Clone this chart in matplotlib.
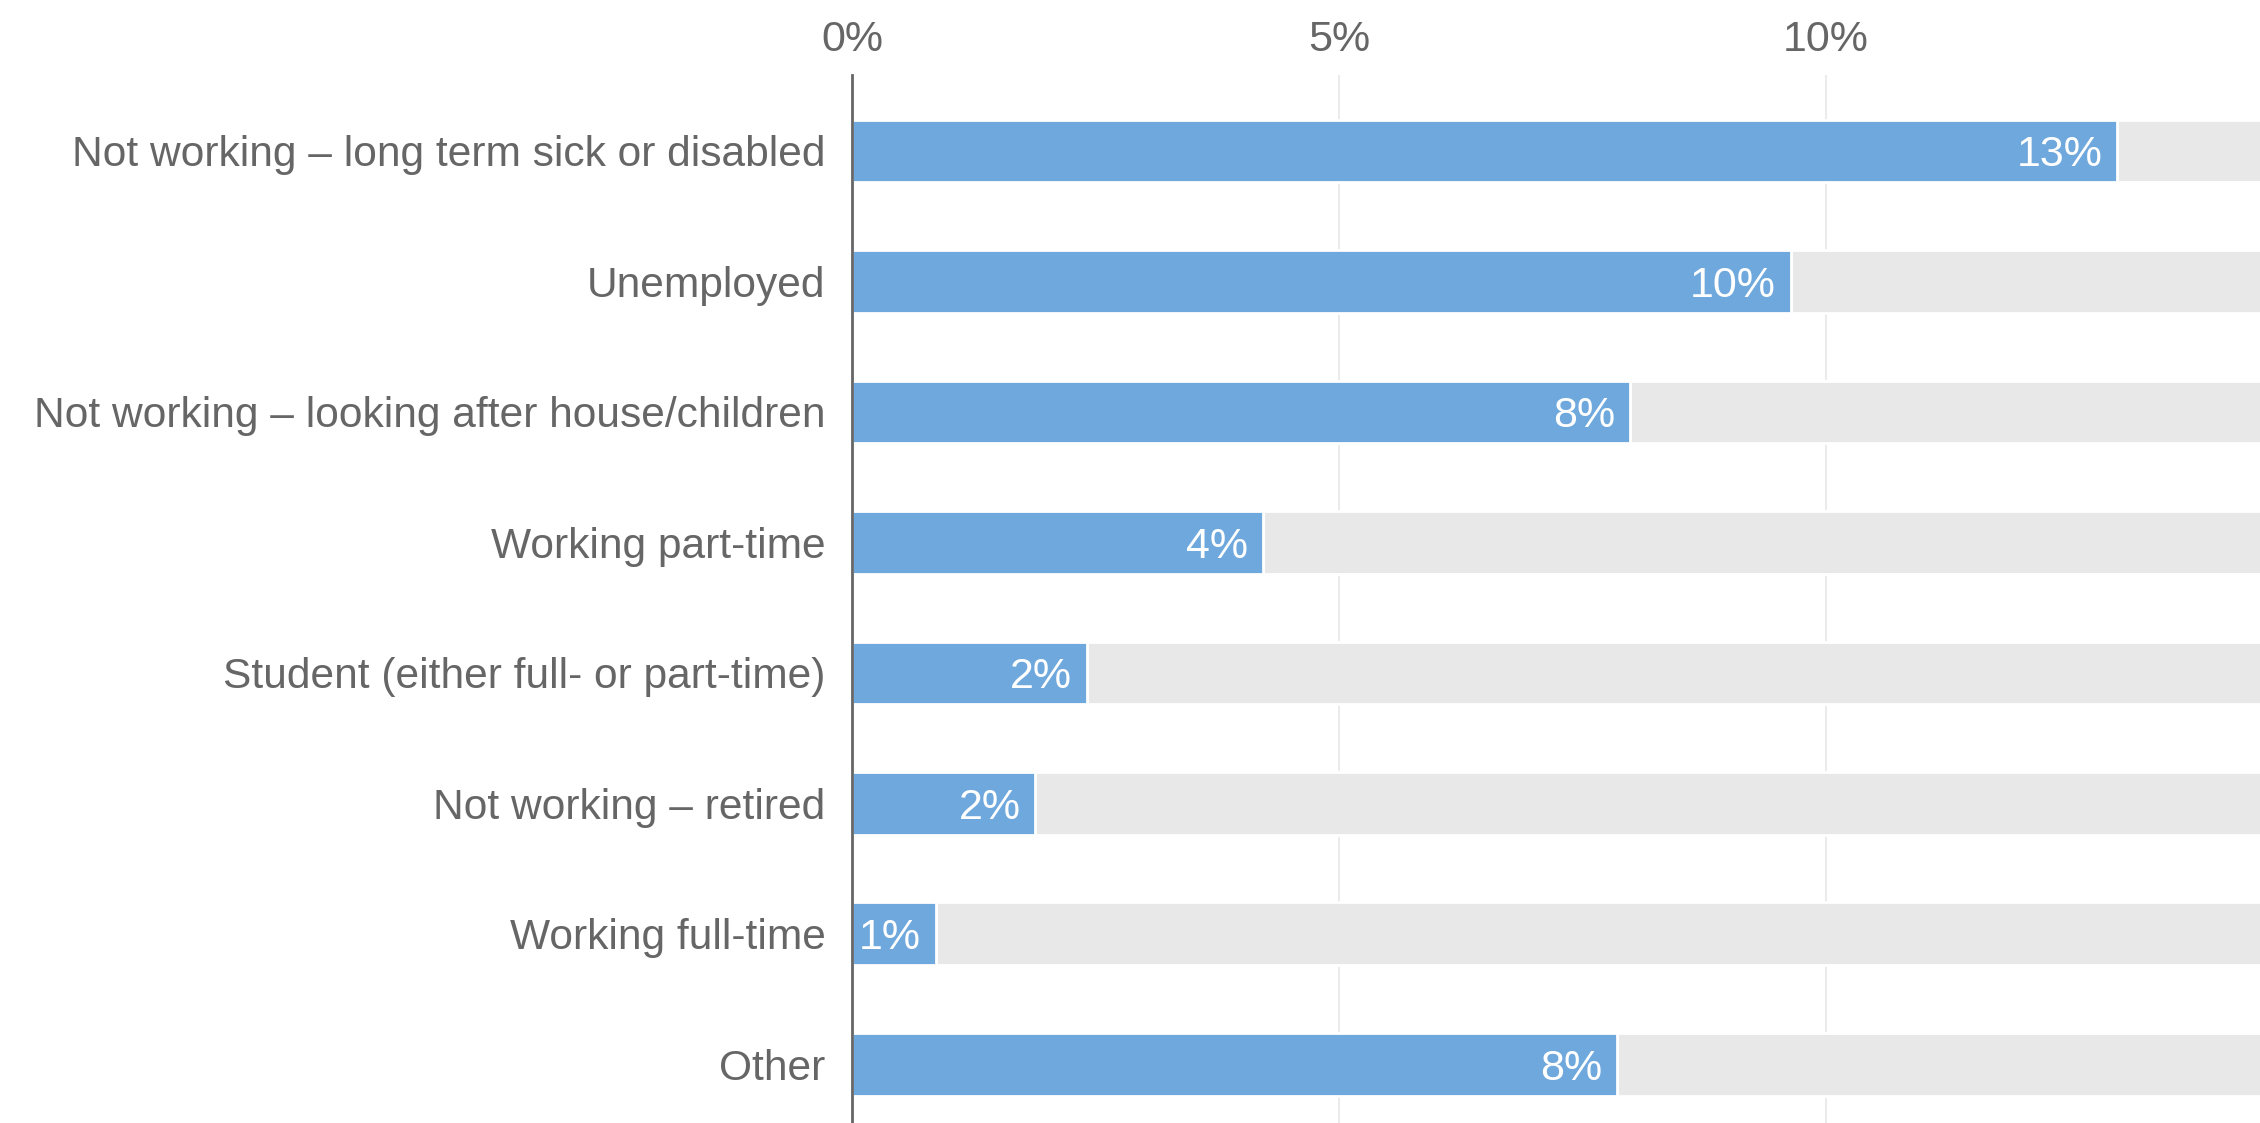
"""
Horizontal bar chart: share by employment status.
"""

import matplotlib
matplotlib.use("Agg")
import matplotlib.pyplot as plt
from matplotlib.ticker import FuncFormatter

categories = [
    "Not working \u2013 long term sick or disabled",
    "Unemployed",
    "Not working \u2013 looking after house/children",
    "Working part-time",
    "Student (either full- or part-time)",
    "Not working \u2013 retired",
    "Working full-time",
    "Other",
]
values = [12.99, 9.64, 7.99, 4.22, 2.41, 1.88, 0.86, 7.86]
x_ticks = [0, 5, 10]

BLUE = "#6FA8DC"
GREY_BG = "#E8E8E8"
TEXT = "#666666"

plt.rcParams['font.family'] = ['Liberation Sans', 'DejaVu Sans']

fig = plt.figure(figsize=(22.6, 11.23), dpi=100)
ax = fig.add_axes([0.377, 0.0, 0.623, 0.933])

y = list(range(len(categories)))
bar_h = 0.48

# grey "remainder" bars behind the data
ax.barh(y, [100 - v for v in values], left=values, height=bar_h,
        color=GREY_BG, edgecolor="white", linewidth=2, zorder=2)
ax.barh(y, values, height=bar_h, color=BLUE, edgecolor="white",
        linewidth=2, zorder=3)

for yi, v in zip(y, values):
    ax.text(v - 0.15, yi, f"{round(v):.0f}%", ha="right",
            va="center_baseline", color="white", fontsize=31, zorder=4)

ax.set_xlim(0, 14.46)
ax.set_ylim(7.45, -0.58)
ax.set_yticks(y)
ax.set_yticklabels(categories)
ax.set_xticks(x_ticks)
ax.xaxis.set_major_formatter(FuncFormatter(lambda v, _: f"{v:.0f}%"))
ax.xaxis.tick_top()

ax.tick_params(axis="both", length=0, labelsize=31, labelcolor=TEXT)
ax.tick_params(axis="y", pad=19, labelsize=30.6)
ax.tick_params(axis="x", pad=11)

ax.grid(axis="x", color="#EBEBEB", linewidth=1.5, zorder=1)
ax.set_axisbelow(True)

for side in ("top", "right", "bottom"):
    ax.spines[side].set_visible(False)
ax.spines["left"].set_color("#666666")
ax.spines["left"].set_linewidth(2)
ax.spines["left"].set_zorder(5)

fig.savefig("out.png", dpi=100)
